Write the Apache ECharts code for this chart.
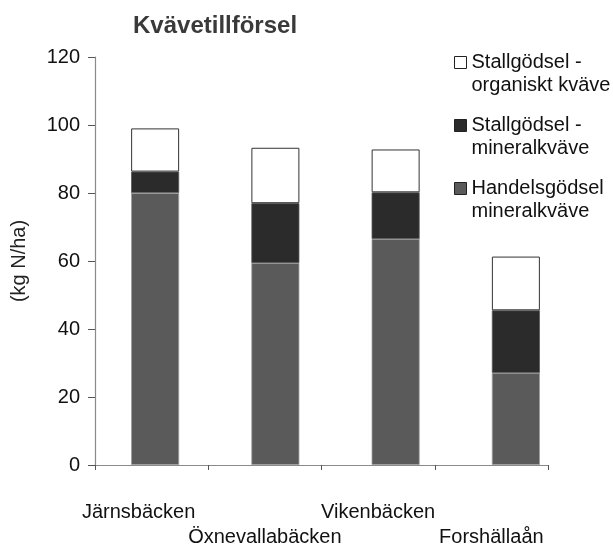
<!DOCTYPE html>
<html>
<head>
<meta charset="utf-8">
<style>
  html, body { margin: 0; padding: 0; background: #fff; }
  #chart { width: 613px; height: 547px; }
</style>
<script src="https://cdn.jsdelivr.net/npm/echarts@6/dist/echarts.min.js"></script>
</head>
<body>
<div id="chart"></div>
<script>
// Nitrogen input per catchment (kg N/ha), stacked by source
const categories = ['Järnsbäcken', 'Öxnevallabäcken', 'Vikenbäcken', 'Forshällaån'];
const handelsMineral = [80.0, 59.4, 66.5, 27.1];   // Handelsgödsel mineralkväve
const stallMineral   = [6.3, 17.6, 13.7, 18.4];    // Stallgödsel - mineralkväve
const stallOrganiskt = [12.7, 16.3, 12.6, 15.8];   // Stallgödsel - organiskt kväve
const seriesNames = ['Stallgödsel -\norganiskt kväve', 'Stallgödsel -\nmineralkväve', 'Handelsgödsel\nmineralkväve'];
const yTicks = { min: 0, max: 120, interval: 20 };

const FONT = "'Liberation Sans', Arial, Helvetica, sans-serif";
const chart = echarts.init(document.getElementById('chart'), null, { renderer: 'canvas' });

const axisGray = '#8a8a8a';
const colOrganiskt = '#ffffff';
const colStallMin = '#2b2b2b';
const colHandels = '#5a5a5a';

chart.setOption({
  backgroundColor: '#ffffff',
  animation: false,
  title: {
    text: 'Kvävetillförsel',
    left: 128, top: 9,
    textStyle: { fontFamily: FONT, fontSize: 24, fontWeight: 'bold', color: '#3a3a3a' }
  },
  legend: {
    orient: 'vertical',
    left: 454, top: 28, padding: 0,
    itemWidth: 12, itemHeight: 12, itemGap: -6,
    icon: 'rect',
    data: seriesNames.map(n => ({ name: n, itemStyle: { borderColor: '#222', borderWidth: 1 } })),
    // an empty first line keeps the swatch level with the first text line
    formatter: name => ' \n' + name,
    textStyle: { fontFamily: FONT, fontSize: 20, color: '#111', lineHeight: 23 },
    selectedMode: false
  },
  grid: [
    // axes, ticks and labels
    { left: 95, right: 65, top: 57, bottom: 82, outerBoundsMode: 'none' },
    // the stacked bars
    { left: 95, right: 37, top: 57, bottom: 82, outerBoundsMode: 'none' }
  ],
  xAxis: [
    {
      type: 'category', gridIndex: 0, data: categories,
      axisLine: { lineStyle: { color: axisGray, width: 1.2 } },
      axisTick: { show: true, length: 5, lineStyle: { color: '#555' } },
      axisLabel: {
        interval: 0, margin: 35, fontFamily: FONT, fontSize: 20, color: '#111', lineHeight: 25,
        formatter: (v, i) => i === 0 ? '{first|' + v + '}' : (i % 2 === 1 ? '\n' + v : v),
        rich: { first: { fontFamily: FONT, fontSize: 20, color: '#111', lineHeight: 25, padding: [0, 26, 0, 0] } }
      }
    },
    { type: 'category', gridIndex: 1, data: categories, show: false }
  ],
  yAxis: [
    {
      type: 'value', gridIndex: 0, min: yTicks.min, max: yTicks.max, interval: yTicks.interval,
      name: '(kg N/ha)', nameLocation: 'middle', nameGap: 66, nameRotate: 90,
      nameTextStyle: { fontFamily: FONT, fontSize: 20, color: '#222' },
      axisLine: { show: true, lineStyle: { color: axisGray, width: 1.2 } },
      axisTick: { show: true, length: 7, lineStyle: { color: '#555' } },
      axisLabel: { margin: 15, fontFamily: FONT, fontSize: 20, color: '#111' },
      splitLine: { show: false }
    },
    { type: 'value', gridIndex: 1, min: yTicks.min, max: yTicks.max, interval: yTicks.interval, show: false }
  ],
  series: [
    {
      name: seriesNames[2], type: 'bar', stack: 'n', xAxisIndex: 1, yAxisIndex: 1,
      barWidth: 48, data: handelsMineral,
      itemStyle: { color: colHandels, borderColor: '#9a9a9a', borderWidth: 0.8 }
    },
    {
      name: seriesNames[1], type: 'bar', stack: 'n', xAxisIndex: 1, yAxisIndex: 1,
      barWidth: 48, data: stallMineral,
      itemStyle: { color: colStallMin, borderColor: '#555', borderWidth: 0.8 }
    },
    {
      name: seriesNames[0], type: 'bar', stack: 'n', xAxisIndex: 1, yAxisIndex: 1,
      barWidth: 48, data: stallOrganiskt,
      itemStyle: { color: colOrganiskt, borderColor: '#333', borderWidth: 1 }
    }
  ]
});
</script>
</body>
</html>
